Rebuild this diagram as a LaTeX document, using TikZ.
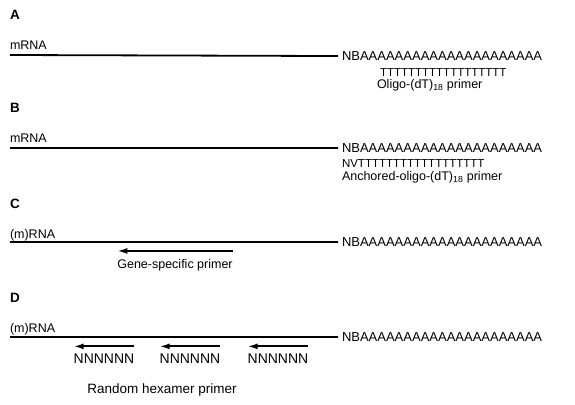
\documentclass[tikz,border=0pt]{standalone}
\usepackage{fontspec}
\setmainfont{Liberation Sans}
\usepackage{tikz}
\usetikzlibrary{arrows.meta, positioning}
\tikzset{
    every node/.style={inner sep=0pt, outer sep=0pt},
    panel/.style={anchor=base west, font=\bfseries\fontsize{13.5}{16}\selectfont},
    rna/.style={anchor=base west, font=\fontsize{12.5}{15}\selectfont},
    tail/.style={anchor=base west, font=\fontsize{13}{15}\selectfont},
    dt/.style={anchor=base west, font=\fontsize{11.5}{14}\selectfont},
    note/.style={anchor=base, font=\fontsize{12.5}{15}\selectfont},
    hexa/.style={anchor=base, font=\fontsize{14}{16}\selectfont},
    strand/.style={line width=1.8pt},
    primer/.style={line width=1.8pt, -{Latex[length=10pt, width=6pt]}},
}
\newcommand{\polyA}{NBAAAAAAAAAAAAAAAAAAAAA}
\newcommand{\oligoT}{TTTTTTTTTTTTTTTTTT}

\begin{document}
\begin{tikzpicture}[x=1pt, y=-1pt]
    \useasboundingbox (0,0) rectangle (575,404);

    % A: oligo-dT
    \node[panel] (pA) at (10,20) {A};
    \node[rna] (rA) at (10,49) {mRNA};
    \coordinate (sA) at (10,55);
    \node[tail] (tA) at (342,60.5) {\polyA};
    \node[dt] (dA) at (380,77) {\oligoT};
    \node[rna] (lA) at (377,88.5) {Oligo-(dT)\textsubscript{18} primer};
    \draw[strand] (sA) -- ([xshift=-4pt]tA.west);

    % B: anchored oligo-dT
    \node[panel] (pB) at (10,112) {B};
    \node[rna] (rB) at (10,142) {mRNA};
    \coordinate (sB) at (10,148);
    \node[tail] (tB) at (342,152.5) {\polyA};
    \node[dt] (dB) at (342,167) {NV\oligoT};
    \node[rna] (lB) at (342,180.5) {Anchored-oligo-(dT)\textsubscript{18} primer};
    \draw[strand] (sB) -- ([xshift=-4pt]tB.west);

    % C: gene-specific
    \node[panel] (pC) at (10,208) {C};
    \node[rna] (rC) at (10,238) {(m)RNA};
    \coordinate (sC) at (10,242);
    \node[tail] (tC) at (342,246.5) {\polyA};
    \node[note] (lC) at (175,268) {Gene-specific primer};
    \draw[strand] (sC) -- ([xshift=-4pt]tC.west);
    \draw[primer] ([yshift=8pt]lC.north east) -- ([yshift=8pt]lC.north west);

    % D: random hexamers
    \node[panel] (pD) at (10,302) {D};
    \node[rna] (rD) at (10,332) {(m)RNA};
    \coordinate (sD) at (10,337);
    \node[tail] (tD) at (342,341.5) {\polyA};
    \node[hexa] (h1) at (104,363) {NNNNNN};
    \node[hexa] (h2) at (190,363) {NNNNNN};
    \node[hexa] (h3) at (278,363) {NNNNNN};
    \node[note, font=\fontsize{13.5}{16}\selectfont] (lD) at (162,393) {Random hexamer primer};
    \draw[strand] (sD) -- ([xshift=-4pt]tD.west);
    \foreach \h in {h1,h2,h3}
        \draw[primer] ([yshift=7pt]\h.north east) -- ([yshift=7pt]\h.north west);
\end{tikzpicture}
\end{document}
